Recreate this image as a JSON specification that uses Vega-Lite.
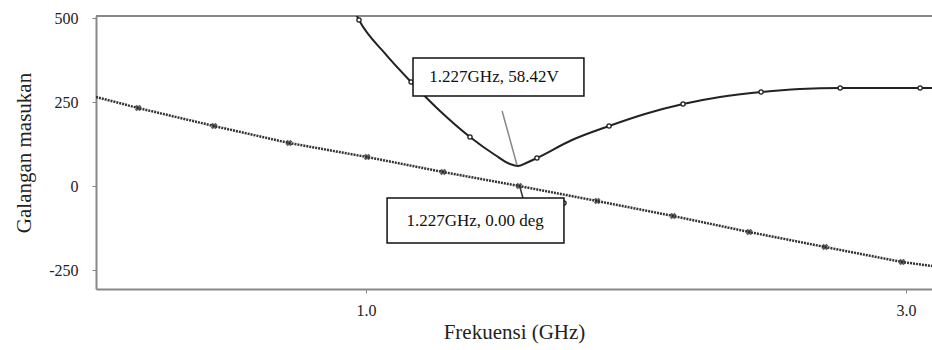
{
  "$schema": "https://vega.github.io/schema/vega-lite/v6.json",
  "width": 836,
  "height": 273,
  "autosize": "none",
  "padding": {"left": 96, "top": 16, "right": 0, "bottom": 61},
  "config": {
    "view": {"stroke": null},
    "font": "Liberation Serif",
    "axis": {"labelFont": "Liberation Serif", "titleFont": "Liberation Serif"}
  },
  "datasets": {
    "volt": [
      {"f": 0.959, "v": 518},
      {"f": 0.974, "v": 494.1},
      {"f": 1.070, "v": 395.0},
      {"f": 1.167, "v": 310.0},
      {"f": 1.274, "v": 223.8},
      {"f": 1.385, "v": 146.6},
      {"f": 1.478, "v": 93.1},
      {"f": 1.533, "v": 66.3},
      {"f": 1.563, "v": 60.4},
      {"f": 1.593, "v": 69.3},
      {"f": 1.633, "v": 84.2},
      {"f": 1.763, "v": 137.6},
      {"f": 1.900, "v": 179.2},
      {"f": 2.033, "v": 214.9},
      {"f": 2.174, "v": 244.6},
      {"f": 2.311, "v": 265.4},
      {"f": 2.463, "v": 280.2},
      {"f": 2.607, "v": 289.1},
      {"f": 2.756, "v": 292.1},
      {"f": 2.904, "v": 292.1},
      {"f": 3.052, "v": 292.1},
      {"f": 3.096, "v": 292.1}
    ],
    "voltMarks": [
      {"f": 0.974, "v": 494.1},
      {"f": 1.167, "v": 310.0},
      {"f": 1.385, "v": 146.6},
      {"f": 1.633, "v": 84.2},
      {"f": 1.900, "v": 179.2},
      {"f": 2.174, "v": 244.6},
      {"f": 2.463, "v": 280.2},
      {"f": 2.756, "v": 292.1},
      {"f": 3.052, "v": 292.1},
      {"f": 1.733, "v": -49.5}
    ],
    "phase": [
      {"f": 0.0, "v": 265.4},
      {"f": 0.156, "v": 232.7},
      {"f": 0.437, "v": 179.2},
      {"f": 0.715, "v": 128.7},
      {"f": 1.004, "v": 87.1},
      {"f": 1.285, "v": 42.6},
      {"f": 1.567, "v": 1.0},
      {"f": 1.856, "v": -43.6},
      {"f": 2.137, "v": -88.1},
      {"f": 2.419, "v": -135.7},
      {"f": 2.700, "v": -180.2},
      {"f": 2.985, "v": -224.8},
      {"f": 3.096, "v": -236.7}
    ],
    "leaders": [
      {"f": 1.504, "v": 223.8, "f2": 1.559, "v2": 63.4, "c": "gray"},
      {"f": 1.570, "v": -2, "f2": 1.581, "v2": -34.7, "c": "dark"}
    ],
    "boxes": [
      {"f": 1.174, "f2": 1.807, "v": 381.2, "v2": 268.3, "tf": 1.474, "tv": 324.8, "label": "1.227GHz, 58.42V"},
      {"f": 1.078, "f2": 1.733, "v": -34.7, "v2": -168.3, "tf": 1.404, "tv": -103, "label": "1.227GHz, 0.00 deg"}
    ]
  },
  "layer": [
    {
      "data": {"values": [{"v": 506}]},
      "mark": {"type": "rule", "color": "#888", "strokeWidth": 2},
      "encoding": {
        "y": {"field": "v", "type": "quantitative", "scale": {"domain": [-305, 506], "nice": false, "zero": false},
          "axis": {"values": [-250, 0, 250, 500], "labelExpr": "'' + datum.value", "title": "Galangan masukan", "grid": false,
            "labelFont": "Liberation Serif", "labelFontSize": 16, "labelColor": "#222", "labelPadding": 14,
            "titleFont": "Liberation Serif", "titleFontSize": 21, "titleFontWeight": "normal", "titleColor": "#222", "titlePadding": 14,
            "domainColor": "#888", "domainWidth": 2, "tickColor": "#888", "tickSize": 4}}
      }
    },
    {
      "data": {"name": "phase"},
      "mark": {"type": "line", "color": "#333", "strokeWidth": 2.5, "strokeDash": [2, 1], "clip": true},
      "encoding": {
        "x": {"field": "f", "type": "quantitative", "scale": {"domain": [0, 3.096], "nice": false, "zero": false},
          "axis": {"values": [1, 3], "format": ".1f", "title": "Frekuensi (GHz)", "grid": false,
            "labelFont": "Liberation Serif", "labelFontSize": 16, "labelColor": "#222", "labelPadding": 9,
            "titleFont": "Liberation Serif", "titleFontSize": 21, "titleFontWeight": "normal", "titleColor": "#222", "titlePadding": 3,
            "domainColor": "#888", "domainWidth": 2, "tickColor": "#888", "tickSize": 4}},
        "y": {"field": "v", "type": "quantitative", "scale": {"domain": [-305, 506], "nice": false, "zero": false}}
      }
    },
    {
      "data": {"name": "phase"},
      "transform": [{"filter": "datum.f > 0.05 && datum.f < 3.05"}],
      "mark": {"type": "point", "shape": "cross", "angle": 45, "size": 45, "filled": true, "color": "#222"},
      "encoding": {
        "x": {"field": "f", "type": "quantitative", "scale": {"domain": [0, 3.096], "nice": false, "zero": false}},
        "y": {"field": "v", "type": "quantitative", "scale": {"domain": [-305, 506], "nice": false, "zero": false}}
      }
    },
    {
      "data": {"name": "volt"},
      "mark": {"type": "line", "color": "#222", "strokeWidth": 2, "interpolate": "monotone", "clip": true},
      "encoding": {
        "x": {"field": "f", "type": "quantitative", "scale": {"domain": [0, 3.096], "nice": false, "zero": false}},
        "y": {"field": "v", "type": "quantitative", "scale": {"domain": [-305, 506], "nice": false, "zero": false}}
      }
    },
    {
      "data": {"name": "voltMarks"},
      "mark": {"type": "point", "shape": "circle", "size": 18, "filled": false, "color": "#222", "strokeWidth": 1.3, "fill": "white", "fillOpacity": 1},
      "encoding": {
        "x": {"field": "f", "type": "quantitative", "scale": {"domain": [0, 3.096], "nice": false, "zero": false}},
        "y": {"field": "v", "type": "quantitative", "scale": {"domain": [-305, 506], "nice": false, "zero": false}}
      }
    },
    {
      "data": {"name": "leaders"},
      "mark": {"type": "rule", "strokeWidth": 1.5},
      "encoding": {
        "x": {"field": "f", "type": "quantitative", "scale": {"domain": [0, 3.096], "nice": false, "zero": false}},
        "x2": {"field": "f2"},
        "y": {"field": "v", "type": "quantitative", "scale": {"domain": [-305, 506], "nice": false, "zero": false}},
        "y2": {"field": "v2"},
        "color": {"field": "c", "type": "nominal", "scale": {"domain": ["gray", "dark"], "range": ["#888", "#333"]}, "legend": null}
      }
    },
    {
      "data": {"name": "boxes"},
      "mark": {"type": "rect", "fill": "white", "stroke": "#111", "strokeWidth": 1.5},
      "encoding": {
        "x": {"field": "f", "type": "quantitative", "scale": {"domain": [0, 3.096], "nice": false, "zero": false}},
        "x2": {"field": "f2"},
        "y": {"field": "v", "type": "quantitative", "scale": {"domain": [-305, 506], "nice": false, "zero": false}},
        "y2": {"field": "v2"}
      }
    },
    {
      "data": {"name": "boxes"},
      "mark": {"type": "text", "font": "Liberation Serif", "fontSize": 17, "color": "#111", "align": "center", "baseline": "middle"},
      "encoding": {
        "x": {"field": "tf", "type": "quantitative", "scale": {"domain": [0, 3.096], "nice": false, "zero": false}},
        "y": {"field": "tv", "type": "quantitative", "scale": {"domain": [-305, 506], "nice": false, "zero": false}},
        "text": {"field": "label"}
      }
    }
  ]
}
